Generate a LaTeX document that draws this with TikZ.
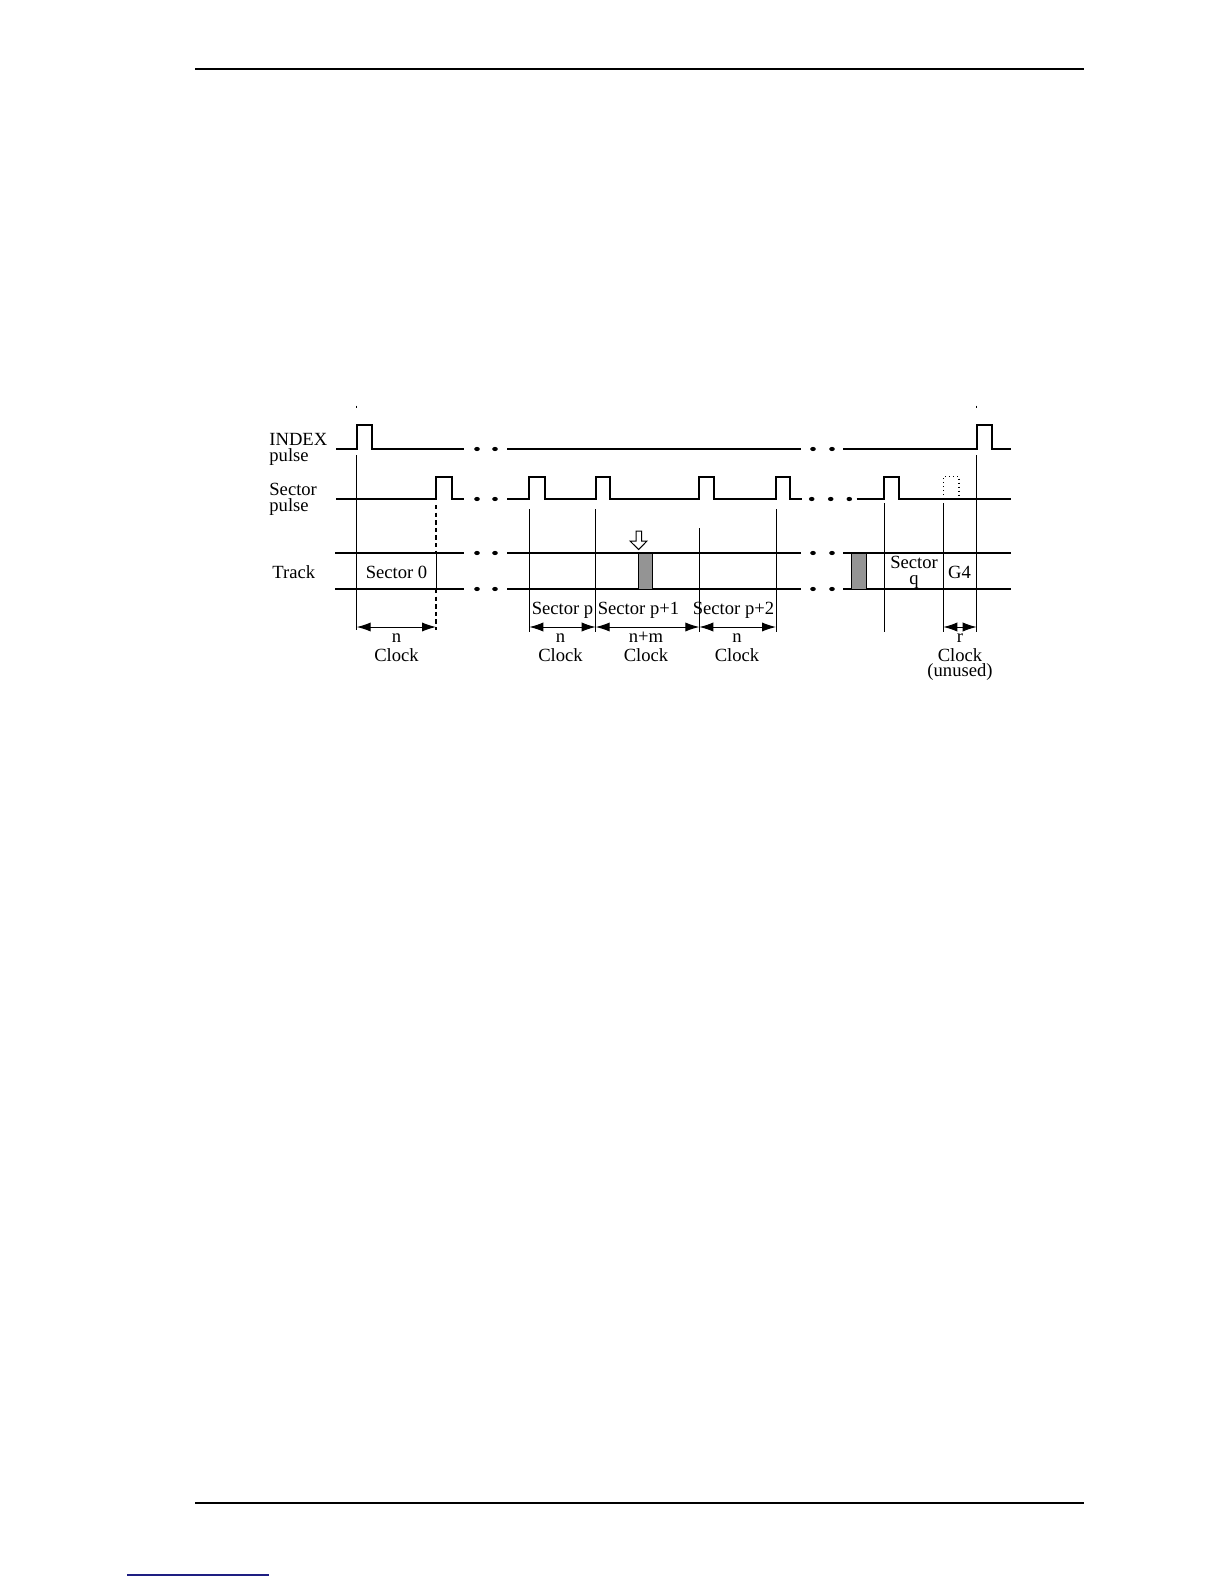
\documentclass[tikz,border=0pt]{standalone}
\usepackage{fontspec}
\setmainfont{Liberation Serif}
\usetikzlibrary{arrows.meta}
\begin{document}
\begin{tikzpicture}[x=0.5pt,y=-0.5pt,
  lbl/.style={inner sep=0pt,font=\fontsize{9.3}{10}\selectfont},
  sig/.style={line width=0.9pt,line join=miter},
  trk/.style={line width=0.7pt},
  trkb/.style={line width=1.1pt},
  vl/.style={line width=0.5pt},
  dim/.style={line width=0.5pt,{Latex[length=7pt,width=4.6pt]}-{Latex[length=7pt,width=4.6pt]}},
  gap/.style={x radius=2.8,y radius=2.1},
  blk/.style={fill=black!42,draw=black,line width=0.5pt}]
\useasboundingbox (0,0) rectangle (1224,1584);
% page rules
\draw[line width=0.7pt] (195,69) -- (1084,69);
\draw[line width=1.1pt] (195,1503) -- (1084,1503);
\draw[line width=0.6pt,color={rgb,255:red,30;green,30;blue,130}] (127,1575) -- (269,1575);
% tiny marks
\draw[line width=0.5pt] (356.7,405.5) -- (356.7,408);
\draw[line width=0.5pt] (976.7,405.5) -- (976.7,408);
% ---- INDEX pulse
\draw[sig] (336,449) -- (356.7,449) -- (356.7,425) -- (372.3,425) -- (372.3,449) -- (464,449);
\draw[sig] (507,449) -- (801,449);
\draw[sig] (843,449) -- (976.7,449) -- (976.7,425) -- (991.7,425) -- (991.7,449) -- (1010.7,449);
\foreach \x in {477,495,813,832} \fill (\x,449) circle[gap];
% ---- Sector pulse
\draw[sig] (336,499) -- (436,499) -- (436,476.7) -- (451.7,476.7) -- (451.7,499) -- (464,499);
\draw[sig] (507,499) -- (529.3,499) -- (529.3,476.7) -- (544.7,476.7) -- (544.7,499)
  -- (595.7,499) -- (595.7,476.7) -- (610,476.7) -- (610,499)
  -- (699.3,499) -- (699.3,476.7) -- (714.3,476.7) -- (714.3,499)
  -- (776,499) -- (776,476.7) -- (790,476.7) -- (790,499) -- (801.7,499);
\draw[sig] (856.7,499) -- (884.3,499) -- (884.3,476.7) -- (899.3,476.7) -- (899.3,499) -- (1010.7,499);
\draw[line width=0.6pt,dash pattern=on 0.6pt off 1.4pt] (943.3,499) -- (943.3,476.7) -- (959,476.7) -- (959,499);
\foreach \x in {477,495,811.7,830.7,849.3} \fill (\x,499) circle[gap];
% ---- Track
\draw[trk] (335,553) -- (464,553);
\draw[trk] (507,553) -- (801,553);
\draw[trk] (843,553) -- (1010.7,553);
\draw[trkb] (335,589) -- (464,589);
\draw[trkb] (507,589) -- (801,589);
\draw[trkb] (843,589) -- (1010.7,589);
\foreach \x in {477,495,813,832} {\fill (\x,553) circle[gap]; \fill (\x,589) circle[gap];}
\draw[blk] (638.3,553) rectangle (652.3,589);
\draw[blk] (851.7,553) rectangle (866,589);
% hollow arrow
\draw[line width=0.5pt,fill=white] (636,531) -- (641.5,531) -- (641.5,541) -- (647,541)
  -- (638.6,549.5) -- (630,541) -- (636,541) -- cycle;
% ---- vertical markers
\coordinate (v0t) at (356.7,455);   \coordinate (v0b) at (356.7,630);
\coordinate (v1t) at (436,505);     \coordinate (v1b) at (436,630);
\coordinate (v2t) at (529.3,509);   \coordinate (v2b) at (529.3,632);
\coordinate (v3t) at (595.7,509);   \coordinate (v3b) at (595.7,632);
\coordinate (v4t) at (699.3,528);   \coordinate (v4b) at (699.3,632);
\coordinate (v5t) at (776,509);     \coordinate (v5b) at (776,632);
\coordinate (v6t) at (884.3,503);   \coordinate (v6b) at (884.3,632);
\coordinate (v7t) at (943.3,503);   \coordinate (v7b) at (943.3,632);
\coordinate (v8t) at (976.7,455);   \coordinate (v8b) at (976.7,632);
\draw[vl] (v0t) -- (v0b);
\draw[line width=0.7pt,dash pattern=on 2.2pt off 1.6pt] (v1t) -- (436,553);
\draw[vl] (436,553) -- (436,589);
\draw[line width=0.7pt,dash pattern=on 2.2pt off 1.6pt] (436,589) -- (v1b);
\foreach \i in {2,...,8} \draw[vl] (v\i t) -- (v\i b);
% ---- dimension arrows
\coordinate (a0) at (356.7,627); \coordinate (a1) at (436,627);
\coordinate (a2) at (529.3,627); \coordinate (a3) at (595.7,627);
\coordinate (a4) at (699.3,627); \coordinate (a5) at (776,627);
\coordinate (a7) at (943.3,627); \coordinate (a8) at (976.7,627);
\draw[dim] (a0) -- (a1);
\draw[dim] (a2) -- (a3);
\draw[dim] (a3) -- (a4);
\draw[dim] (a4) -- (a5);
\draw[dim] (a7) -- (a8);
% ---- labels
\node[lbl,anchor=base west] (idxa) at (269,445) {INDEX};
\node[lbl,anchor=base west] (idxb) at (269,461) {pulse};
\node[lbl,anchor=base west] (seca) at (269,495) {Sector};
\node[lbl,anchor=base west] (secb) at (269,511) {pulse};
\node[lbl,anchor=base west] (trk) at (272,578) {Track};
\node[lbl,anchor=base] (s0) at (396.5,578) {Sector 0};
\node[lbl,anchor=base] (sqa) at (914,568) {Sector};
\node[lbl,anchor=base] (sqb) at (914,584) {q};
\node[lbl,anchor=base] (g4) at (959.5,578) {G4};
\node[lbl,anchor=base] (sp) at (562.5,614) {Sector p};
\node[lbl,anchor=base] (sp1) at (638.5,614) {Sector p+1};
\node[lbl,anchor=base] (sp2) at (733.5,614) {Sector p+2};
\node[lbl,anchor=base] (c0a) at (396.5,642) {n};
\node[lbl,anchor=base] (c0b) at (396.5,661) {Clock};
\node[lbl,anchor=base] (c1a) at (560.5,642) {n};
\node[lbl,anchor=base] (c1b) at (560.5,661) {Clock};
\node[lbl,anchor=base] (c2a) at (646,642) {n+m};
\node[lbl,anchor=base] (c2b) at (646,661) {Clock};
\node[lbl,anchor=base] (c3a) at (737,642) {n};
\node[lbl,anchor=base] (c3b) at (737,661) {Clock};
\node[lbl,anchor=base] (c4a) at (960,642) {r};
\node[lbl,anchor=base] (c4b) at (960,661) {Clock};
\node[lbl,anchor=base] (c4c) at (960,676) {(unused)};
\end{tikzpicture}
\end{document}
